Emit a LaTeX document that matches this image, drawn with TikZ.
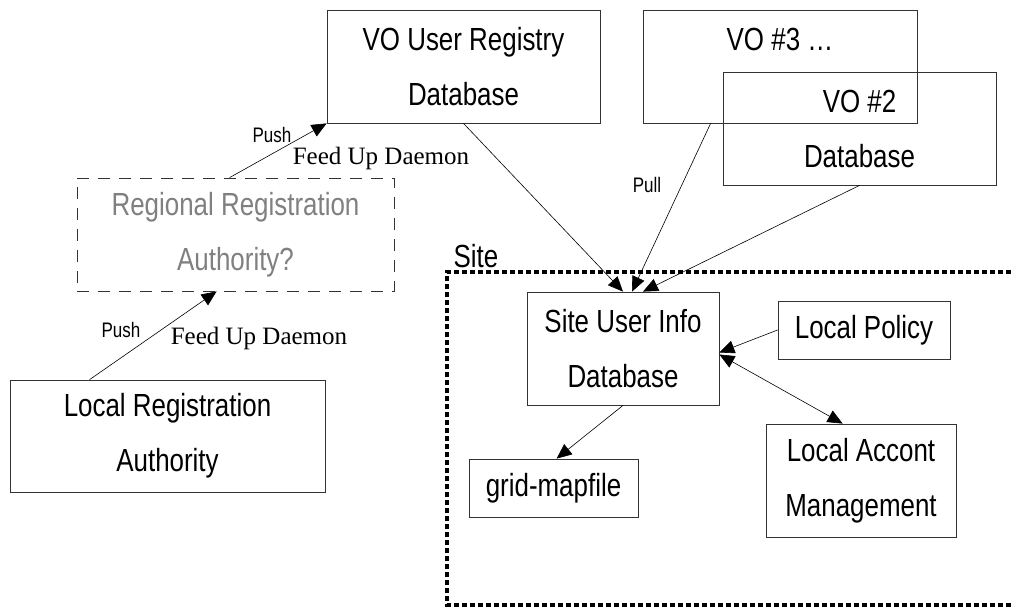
\documentclass[tikz,border=0pt]{standalone}
\usepackage{fontspec}
\newfontfamily\boxfont{Liberation Sans}[FakeStretch=0.81]
\newfontfamily\daemonfont{Liberation Serif}
\usetikzlibrary{arrows.meta}

\begin{document}
\begin{tikzpicture}
        [x=1pt,y=-1pt,
        every node/.style={inner sep=0pt,align=center},
        box/.style={rectangle,draw=black!80,line width=0.8pt,font=\boxfont\fontsize{32}{55}\selectfont},
        regbox/.style={box,dashed,dash pattern=on 12pt off 9pt,text=black!50},
        tag/.style={font=\boxfont\fontsize{21}{24}\selectfont},
        daemon/.style={font=\daemonfont\fontsize{25}{30}\selectfont},
        feed/.style={draw=black,line width=0.6pt,-{Triangle[length=15pt,width=13pt]}}]
        \useasboundingbox (0,0) rectangle (1011,610);

        % site frame
        \draw[line width=4.5pt,dash pattern=on 5pt off 3pt] (1011,272) -- (447,272) -- (447,605) -- (1011,605);
        \node[font=\boxfont\fontsize{32}{36}\selectfont] (site) at (476,256) {Site};

        % registries
        \node[box,minimum width=273pt,minimum height=113pt] (voreg) at (463.5,66.5) {VO User Registry\\Database};
        \node[box,minimum width=274pt,minimum height=113pt] (vo3)   at (780,66.5)   {VO \#3 \dots\\~};
        \node[box,minimum width=273pt,minimum height=113pt] (vo2)   at (859.5,128.5) {VO \#2\\Database};

        % registration authorities
        \node[regbox,minimum width=317pt,minimum height=113pt] (regional) at (235.5,234.5) {Regional Registration\\Authority?};
        \node[box,minimum width=315pt,minimum height=112pt]    (localreg) at (167.5,436)   {Local Registration\\Authority};

        % site side
        \node[box,minimum width=192pt,minimum height=113pt] (siteinfo) at (623,348.5) {Site User Info\\Database};
        \node[box,minimum width=172pt,minimum height=58pt]  (policy)   at (864,330)   {Local Policy};
        \node[box,minimum width=169pt,minimum height=58pt]  (gridmap)  at (553.5,488) {grid-mapfile};
        \node[box,minimum width=190pt,minimum height=113pt] (account)  at (861,480.5) {Local Accont\\Management};

        % labels
        \node[tag]    (push1) at (121,330) {Push};
        \node[daemon] (feed1) at (259,338) {Feed Up Daemon};
        \node[tag]    (push2) at (272,135) {Push};
        \node[daemon] (feed2) at (381,158) {Feed Up Daemon};
        \node[tag]    (pull)  at (647,185) {Pull};

        % push up
        \draw[feed] ([xshift=80pt]localreg.north west) -- ([xshift=140pt]regional.south west);
        \draw[feed] ([xshift=153pt]regional.north west) -- (voreg.south west);

        % pull down
        \draw[feed] (voreg.south) -- (siteinfo.north);
        \draw[feed] ([xshift=68pt]vo3.south west) -- ([xshift=9pt]siteinfo.north);
        \draw[feed] (vo2.south) -- ([xshift=20pt]siteinfo.north);

        % inside the site
        \draw[feed] (policy.west) -- ([yshift=-4pt]siteinfo.east);
        \draw[feed,{Triangle[length=15pt,width=13pt]}-{Triangle[length=15pt,width=13pt]}]
        ([yshift=-6pt]siteinfo.east) -- ([xshift=77pt]account.north west);
        \draw[feed] (siteinfo.south) -- ([xshift=88pt]gridmap.north west);
    \end{tikzpicture}
\end{document}
